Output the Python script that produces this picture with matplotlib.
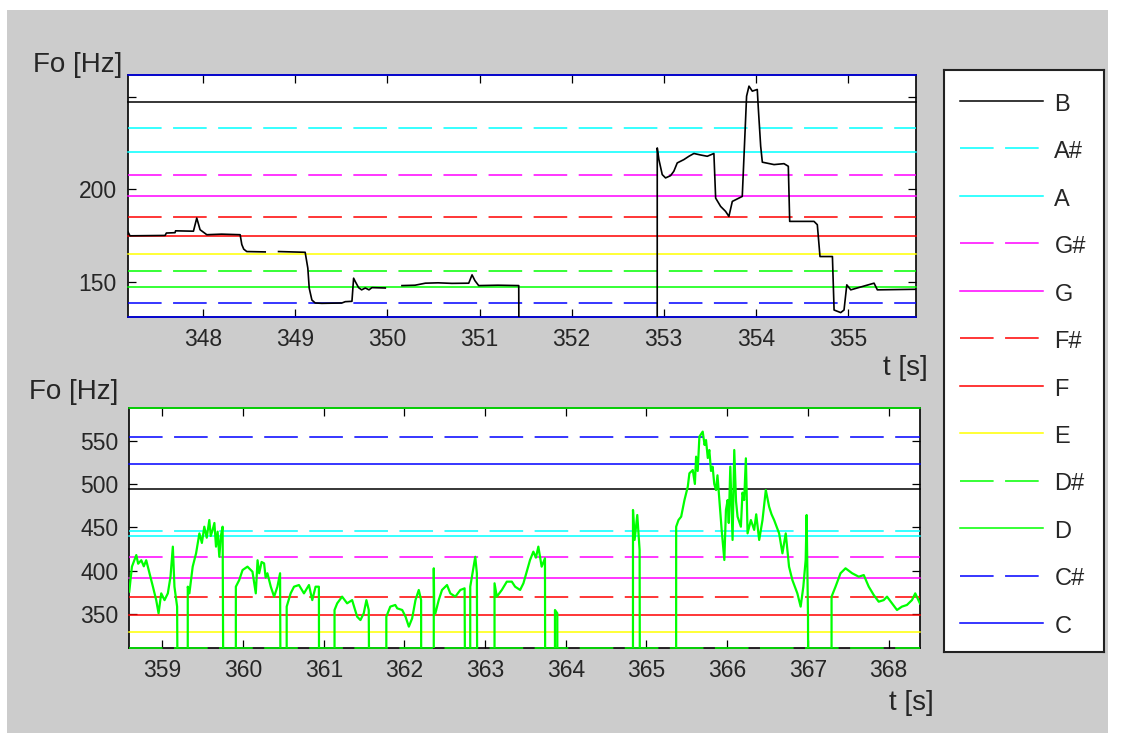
import numpy as np
import matplotlib.pyplot as plt
from matplotlib.patches import Rectangle

plt.rcParams['font.family'] = ['Liberation Sans', 'DejaVu Sans']

nan = np.nan

# reference note lines (name, frequency in Hz)
top_notes = ['C', 'C#', 'D', 'D#', 'E', 'F', 'F#', 'G', 'G#', 'A', 'A#', 'B', 'C']
top_freqs = [130.81, 138.59, 146.83, 155.56, 164.81, 174.61, 185.00, 196.00,
             207.65, 220.00, 233.08, 246.94, 261.63]

bottom_notes = ['D#', 'E', 'F', 'F#', 'G', 'G#', 'A', 'A#', 'B', 'C', 'C#', 'D']
bottom_freqs = [311.13, 329.63, 349.23, 369.99, 392.00, 415.30, 440.00, 445.5,
                493.88, 523.25, 554.37, 587.33]

legend_notes = ['B', 'A#', 'A', 'G#', 'G', 'F#', 'F', 'E', 'D#', 'D', 'C#', 'C']
note_color = {'C': '#0000ff', 'D': '#00ff00', 'E': '#ffff00', 'F': '#ff0000',
              'G': '#ff00ff', 'A': '#00ffff', 'B': '#000000'}

# F0 track, upper panel (0 = unvoiced)
top_t = [347.18, 347.205, 347.586, 347.60, 347.694, 347.70, 347.894, 347.93, 347.966, 348.039,
         348.20, 348.401, 348.419, 348.44, 348.473, 348.673, nan, 348.818, 349.107, 349.136,
         349.151, 349.18, 349.216, 349.289, 349.506, 349.542, 349.615, 349.633, 349.651, 349.687,
         349.72, 349.76, 349.80, 349.832, 349.977, nan, 350.158, 350.30, 350.412, 350.55,
         350.70, 350.883, 350.919, 350.95, 350.991, 351.20, 351.426, 351.437, 352.929, 352.93,
         352.948, 352.984, 353.02, 353.074, 353.11, 353.147, 353.219, 353.274, 353.328, 353.40,
         353.473, 353.545, 353.564, 353.618, 353.672, 353.708, 353.745, 353.853, 353.90, 353.926,
         353.962, 354.016, 354.027, 354.053, 354.071, 354.198, 354.306, 354.353, 354.368, 354.632,
         354.668, 354.697, 354.832, 354.85, 354.922, 354.958, 354.988, 355.031, 355.284, 355.32,
         355.737]
top_f = [177.1, 174.7, 174.9, 176.2, 176.4, 177.4, 177.2, 184.3, 178.0, 175.3,
         175.6, 175.3, 170.0, 167.5, 166.2, 166.0, nan, 166.2, 165.8, 157.2,
         146.4, 140.0, 138.4, 138.2, 138.4, 139.1, 139.3, 151.8, 150.0, 146.7,
         145.5, 146.5, 145.5, 146.7, 146.5, nan, 147.8, 148.0, 149.1, 149.3,
         149.0, 149.1, 153.6, 150.5, 147.8, 148.0, 147.8, 0, 0, 222.2,
         215.9, 207.8, 206.0, 207.2, 209.6, 214.1, 215.9, 217.7, 219.2, 218.4,
         217.7, 219.2, 195.1, 190.6, 187.9, 185.2, 193.3, 196.0, 250.2, 255.6,
         252.9, 253.8, 243.9, 223.1, 214.5, 213.2, 213.7, 212.3, 182.5, 182.5,
         180.7, 163.5, 163.5, 134.6, 133.2, 134.6, 148.2, 145.5, 149.1, 145.5,
         145.8]

# F0 track, lower panel (0 = unvoiced)
bottom_t = [358.59, 358.623, 358.677, 358.70, 358.739, 358.77, 358.80, 358.841, 358.883, 358.924,
            358.953, 358.986, 359.027, 359.068, 359.101, 359.13, 359.15, 359.183, 359.204, 359.314,
            359.315, 359.335, 359.376, 359.418, 359.459, 359.49, 359.52, 359.55, 359.582, 359.60,
            359.623, 359.645, 359.665, 359.685, 359.706, 359.725, 359.747, 359.767, 359.910, 359.911,
            359.953, 359.994, 360.055, 360.117, 360.158, 360.18, 360.20, 360.23, 360.261, 360.28,
            360.302, 360.344, 360.385, 360.426, 360.459, 360.475, 360.540, 360.541, 360.59, 360.632,
            360.693, 360.755, 360.817, 360.858, 360.899, 360.94, 360.948, 361.133, 361.134, 361.167,
            361.228, 361.29, 361.352, 361.414, 361.455, 361.496, 361.529, 361.558, 361.578, 361.775,
            361.776, 361.825, 361.887, 361.911, 361.973, 362.014, 362.055, 362.096, 362.137, 362.178,
            362.207, 362.211, 362.363, 362.364, 362.37, 362.384, 362.425, 362.466, 362.528, 362.569,
            362.631, 362.693, 362.746, 362.763, 362.815, 362.816, 362.857, 362.878, 362.898, 362.911,
            363.116, 363.117, 363.145, 363.207, 363.269, 363.331, 363.372, 363.434, 363.475, 363.516,
            363.557, 363.598, 363.63, 363.66, 363.701, 363.742, 363.750, 363.865, 363.866, 363.895,
            363.897, 364.832, 364.833, 364.853, 364.886, 364.915, 364.923, 365.367, 365.368, 365.397,
            365.43, 365.471, 365.512, 365.532, 365.574, 365.60, 365.615, 365.635, 365.656, 365.697,
            365.72, 365.738, 365.76, 365.779, 365.80, 365.82, 365.84, 365.862, 365.88, 365.903,
            365.932, 365.965, 365.985, 366.006, 366.02, 366.039, 366.067, 366.088, 366.11, 366.129,
            366.17, 366.19, 366.211, 366.232, 366.253, 366.294, 366.335, 366.36, 366.397, 366.438,
            366.479, 366.52, 366.55, 366.582, 366.644, 366.685, 366.726, 366.767, 366.808, 366.87,
            366.911, 366.944, 366.973, 366.985, 367.002, 367.014, 367.293, 367.294, 367.343, 367.405,
            367.467, 367.549, 367.631, 367.693, 367.755, 367.816, 367.878, 367.94, 367.981, 368.043,
            368.105, 368.166, 368.228, 368.29, 368.331, 368.39]
bottom_f = [375.8, 404.6, 418.0, 408.0, 412.0, 405.0, 412.0, 397.0, 381.5, 366.0,
            350.8, 373.8, 366.0, 373.8, 393.0, 427.7, 381.5, 358.5, 0, 0,
            381.5, 373.8, 404.6, 420.0, 443.0, 432.0, 450.7, 438.0, 458.4, 440.0,
            447.0, 455.0, 427.7, 445.0, 416.0, 440.0, 450.7, 0, 0, 381.5,
            389.2, 400.7, 404.6, 398.8, 373.8, 412.0, 397.0, 410.0, 408.4, 392.0,
            397.0, 381.5, 370.0, 381.5, 397.0, 0, 0, 358.5, 373.8, 381.5,
            383.4, 373.8, 383.4, 366.0, 381.5, 381.5, 0, 0, 354.6, 362.3,
            370.0, 362.3, 366.0, 346.9, 343.0, 350.8, 366.0, 354.6, 0, 0,
            346.9, 358.5, 360.4, 356.5, 354.6, 346.9, 335.4, 345.0, 366.0, 377.7,
            366.0, 0, 0, 402.7, 350.8, 350.8, 366.0, 377.7, 383.4, 373.8,
            370.0, 377.7, 379.6, 0, 0, 381.5, 404.6, 416.0, 397.0, 0,
            0, 385.4, 370.0, 377.7, 387.3, 387.3, 381.5, 377.7, 385.4, 398.8,
            412.3, 421.9, 415.0, 427.7, 404.6, 414.2, 0, 0, 354.6, 350.8,
            0, 0, 470.0, 435.4, 464.2, 423.8, 0, 0, 450.7, 458.4,
            462.3, 481.5, 496.9, 512.3, 516.1, 500.0, 531.5, 515.0, 554.6, 560.4,
            545.0, 550.7, 530.0, 539.2, 515.0, 520.0, 500.0, 493.0, 510.0, 481.5,
            446.9, 412.3, 470.0, 481.5, 455.0, 520.0, 435.4, 539.2, 480.0, 462.3,
            450.7, 490.0, 481.5, 529.6, 443.0, 458.4, 447.0, 465.0, 435.4, 458.4,
            493.0, 473.8, 465.0, 458.4, 443.0, 420.0, 443.0, 404.6, 389.2, 373.8,
            358.5, 381.5, 412.3, 464.2, 346.9, 0, 0, 370.0, 381.5, 397.0,
            402.7, 397.0, 393.0, 394.9, 381.5, 372.0, 364.2, 366.0, 370.0, 362.3,
            354.6, 358.5, 360.4, 366.0, 373.8, 362.0]

DASH = (0, (22, 7.5))
TEXT = '#262626'


def note_style(name):
    return note_color[name[0]], (DASH if '#' in name else '-')


def style_axes(ax, xlim, ylim, yticks, ylabels, xticks):
    ax.set_xlim(*xlim)
    ax.set_ylim(*ylim)
    ax.set_yticks(yticks)
    ax.set_yticklabels(ylabels)
    ax.set_xticks(xticks)
    ax.tick_params(direction='in', length=6, width=0.9, top=True, right=True,
                   labelsize=16.5, pad=8, colors='black', labelcolor=TEXT)
    for s in ax.spines.values():
        s.set_linewidth(1.2)
        s.set_color('black')


fig = plt.figure(figsize=(11.28, 7.33), dpi=100)
fig.patch.set_facecolor('white')
fig.add_artist(Rectangle((7 / 1128, 0), 1101 / 1128, 723 / 733, transform=fig.transFigure,
                         facecolor='#cccccc', edgecolor='none', zorder=-5))

# upper panel
ax1 = fig.add_axes([0.1132, 0.5675, 0.6989, 0.3302])
for name, f in zip(top_notes, top_freqs):
    c, ls = note_style(name)
    ax1.axhline(f, color=c, linestyle=ls, linewidth=1.1, zorder=3, clip_on=False)
ax1.plot(top_t, top_f, color='black', linewidth=1.2, zorder=4)
style_axes(ax1, (347.18, 355.74), (130.81, 261.63), [150, 200, 250], ['150', '200', ''],
           range(348, 356))

# lower panel
ax2 = fig.add_axes([0.1146, 0.1164, 0.7010, 0.3266])
for name, f in zip(bottom_notes, bottom_freqs):
    c, ls = note_style(name)
    ax2.axhline(f, color=c, linestyle=ls, linewidth=1.1, zorder=3, clip_on=False)
ax2.plot(bottom_t, bottom_f, color='#00ff00', linewidth=1.6, zorder=4)
style_axes(ax2, (358.59, 368.39), (311.13, 587.33), [350, 400, 450, 500, 550],
           ['350', '400', '450', '500', '550'], range(359, 369))

# axis labels
fig.text(122 / 1128, 1 - 65 / 733, 'Fo [Hz]', ha='right', va='center', fontsize=20, color=TEXT)
fig.text(118 / 1128, 1 - 392 / 733, 'Fo [Hz]', ha='right', va='center', fontsize=20, color=TEXT)
fig.text(905 / 1128, 1 - 368 / 733, 't [s]', ha='center', va='center', fontsize=20, color=TEXT)
fig.text(911 / 1128, 1 - 703 / 733, 't [s]', ha='center', va='center', fontsize=20, color=TEXT)

# legend box
axl = fig.add_axes([0.8369, 0.1105, 0.1418, 0.7940])
axl.set_xlim(0, 1)
axl.set_ylim(-0.611, 11.653)
axl.set_xticks([])
axl.set_yticks([])
for s in axl.spines.values():
    s.set_linewidth(1.5)
    s.set_color('#222222')
for i, name in enumerate(legend_notes):
    y = len(legend_notes) - 1 - i
    c, ls = note_style(name)
    axl.plot([0.1, 0.62], [y, y], color=c, linestyle=ls, linewidth=1.1)
    axl.text(0.69, y - 0.08, name, ha='left', va='center', fontsize=17, color=TEXT)

plt.savefig('out.png', dpi=100)
